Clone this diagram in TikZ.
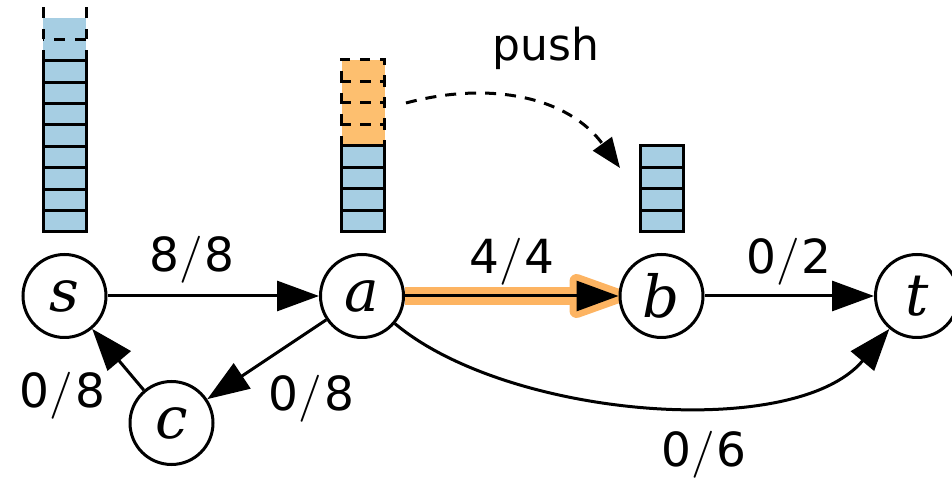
\documentclass[tikz,border=0pt]{standalone}
\usepackage{fontspec}
\usepackage{unicode-math}
\setmainfont{DejaVu Sans}
\newfontfamily\vfont{DejaVu Serif}
\usetikzlibrary{arrows.meta,calc}
\pgfdeclarelayer{bg}
\pgfsetlayers{bg,main}
\definecolor{cblue}{HTML}{A6CEE3}
\definecolor{corange}{HTML}{FDBF6F}
\definecolor{chl}{HTML}{FDB462}
\newcommand{\fl}[2]{#1$/$\kern2pt#2}
\begin{document}
\begin{tikzpicture}[x=1pt,y=1pt,
  vtx/.style={circle,draw,line width=3pt,fill=white,minimum size=83pt,inner sep=0pt,font=\vfont\itshape\fontsize{58pt}{60pt}\selectfont},
  flow/.style={line width=3pt,-{Triangle[length=42pt,width=30pt]}},
  lbl/.style={anchor=base,inner sep=0pt,font=\fontsize{47pt}{50pt}\selectfont},
  cellb/.style={draw,line width=3pt,fill=cblue},
  dcell/.style={draw,line width=3pt,dash pattern=on 10pt off 10pt},
  sdash/.style={line width=3pt,dash pattern=on 10.7pt off 10.7pt},
  hl/.style={draw=chl,line width=18pt},
  hlhead/.style={draw=chl,fill=chl,line width=14pt,line join=round},
  pusharr/.style={line width=3pt,dash pattern=on 11pt off 9pt,-{Triangle[length=30pt,width=23pt]}}]
\useasboundingbox (0,0) rectangle (952,481);

% vertices
\node[vtx] (s) at (64.5,185) {s};
\node[vtx] (a) at (362,185) {a};
\node[vtx] (b) at (661.5,185) {b};
\node[vtx] (t) at (917,185) {t};
\node[vtx] (c) at (171.5,58) {c};

% stack above s
\fill[cblue] (43,420.2) rectangle (86,463);
\foreach \x in {43,86} \draw[sdash] (\x,420.2) -- (\x,485);
\draw[sdash] (86,441.6) -- (43,441.6);
\foreach \i in {0,...,7} \draw[cellb] (43,{249+21.4*\i}) rectangle (86,{270.4+21.4*\i});

% stack above a
\fill[corange] (341.5,335) rectangle (384.5,421);
\foreach \i in {0,...,3} \draw[dcell] (341.5,{335+21.5*\i}) -- (341.5,{356.5+21.5*\i}) -- (384.5,{356.5+21.5*\i}) -- (384.5,{335+21.5*\i}) -- cycle;
\foreach \i in {0,...,3} \draw[cellb] (341.5,{249+21.5*\i}) rectangle (384.5,{270.5+21.5*\i});

% stack above b
\foreach \i in {0,...,3} \draw[cellb] (640,{249+21.5*\i}) rectangle (683,{270.5+21.5*\i});

% push arrow
\coordinate (pf) at (406,378);
\coordinate (pt) at (620,313);
\draw[pusharr] (pf) to[out=15,in=126] (pt);
\node[lbl,font=\fontsize{44pt}{48pt}\selectfont] (push) at (546,420) {push};

% highlight of a -> b
\begin{pgfonlayer}{bg}
\draw[hl] (a.east) -- ($(b.west)+(-40,0)$);
\filldraw[hlhead] (b.west) -- ($(b.west)+(-42,15)$) -- ($(b.west)+(-42,-15)$) -- cycle;
\end{pgfonlayer}

% edges
\draw[flow] (s) -- (a);
\draw[flow] (a) -- (b);
\draw[flow] (b) -- (t);
\draw[flow] (a) -- (c);
\draw[flow] (c) -- (s);
\draw[flow] (a) to[out=-40,in=230,looseness=0.76] (t);

% labels
\node[lbl] (l1) at (192,209) {\fl{8}{8}};
\node[lbl] (l2) at (512,207) {\fl{4}{4}};
\node[lbl] (l3) at (789,207) {\fl{0}{2}};
\node[lbl] (l4) at (62.5,73) {\fl{0}{8}};
\node[lbl] (l5) at (311.5,70) {\fl{0}{8}};
\node[lbl] (l6) at (704,14) {\fl{0}{6}};
\end{tikzpicture}
\end{document}
